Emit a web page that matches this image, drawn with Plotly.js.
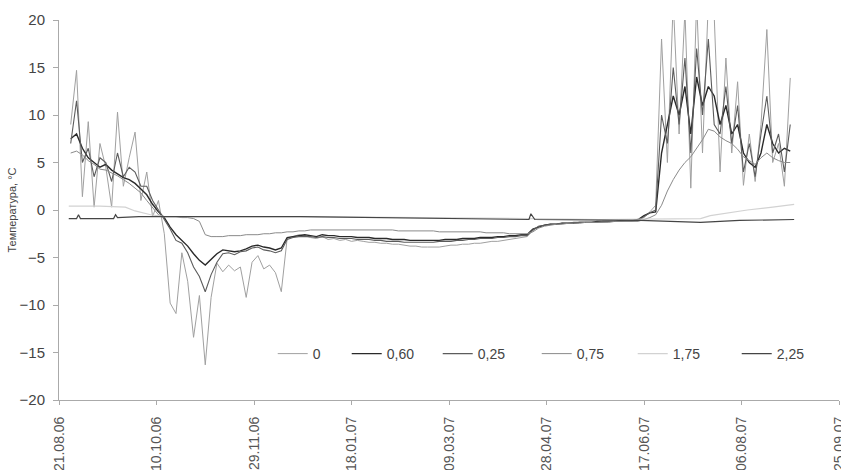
<!DOCTYPE html>
<html>
<head>
<meta charset="utf-8">
<script src="https://cdn.plot.ly/plotly-3.0.1.min.js"></script>
<style>html,body{margin:0;padding:0;background:#fff;}#chart{width:841px;height:470px;}</style>
</head>
<body>
<div id="chart"></div>
<script>
// Grid start (27.08.2006) and step (3 days) for the dense series
const gridStart = '2006-08-27';
const gridStepDays = 3;

// Depth 0 m
const s0 = [
  9, 14.7, 1.4, 9.3, 0.3, 7.0, 4.5, 0.3, 10.3, 2.5,
  5.5, 8.2, 1.0, 4.0, -0.7, 1.0, -2.5, -9.8, -10.9, -4.5,
  -7.5, -13.4, -9.0, -16.3, -9.2, -5.6, -6.5, -5.8, -6.4, -6.0,
  -9.2, -5.5, -4.8, -6.2, -5.8, -6.6, -8.6, -3.0, -2.8, -2.6,
  -2.7, -2.9, -3.0, -2.8, -3.1, -3.0, -3.2, -3.1, -3.3, -3.2,
  -3.3, -3.4, -3.4, -3.5, -3.5, -3.6, -3.6, -3.7, -3.8, -3.8,
  -3.9, -3.9, -3.9, -3.9, -3.8, -3.7, -3.7, -3.6, -3.6, -3.5,
  -3.5, -3.4, -3.3, -3.3, -3.2, -3.1, -3.0, -2.9, -2.8, -2.2,
  -1.7, -1.6, -1.5, -1.5, -1.4, -1.4, -1.4, -1.3, -1.3, -1.3,
  -1.3, -1.3, -1.2, -1.2, -1.2, -1.2, -1.2, -1.1, -0.8, -0.2,
  0.5, 18, 5, 22, 8, 21, 2.3, 22, 6, 22,
  20.5, 4, 16, 6, 13.5, 2.6, 8, 3, 9, 19,
  5, 7, 2.5, 13.9
];
// Depth 0,60 m
const s060 = [
  7.5, 8.0, 6.5, 5.5, 5.0, 4.5, 4.8, 4.2, 3.8, 3.4,
  3.2, 2.8, 2.2, 1.6, 0.6, -0.2, -0.8, -1.8, -2.6, -3.2,
  -3.8, -4.6, -5.3, -5.8, -5.2, -4.6, -4.2, -4.3, -4.4, -4.3,
  -4.1, -3.8, -3.7, -3.9, -4.0, -4.2, -4.0, -2.9, -2.8, -2.7,
  -2.6, -2.7, -2.8, -2.6, -2.7, -2.7, -2.8, -2.8, -2.8, -2.9,
  -2.9, -2.9, -3.0, -3.0, -3.0, -3.1, -3.1, -3.1, -3.2, -3.2,
  -3.2, -3.2, -3.2, -3.2, -3.1, -3.1, -3.1, -3.0, -3.0, -3.0,
  -2.9, -2.9, -2.9, -2.8, -2.8, -2.7, -2.7, -2.6, -2.6, -2.0,
  -1.8, -1.6, -1.5, -1.5, -1.4, -1.4, -1.4, -1.3, -1.3, -1.3,
  -1.2, -1.2, -1.2, -1.2, -1.1, -1.1, -1.1, -1.0, -0.6, -0.3,
  -0.2, 6, 9, 12, 10, 13, 8, 14, 11, 13,
  12, 9, 11, 8, 9, 6, 5, 4.5, 6, 9,
  7, 6, 6.5, 6.2
];
// Depth 0,25 m
const s025 = [
  7, 11.5, 5, 6.5, 3.5, 5.5, 5, 3, 6, 3.5,
  4.5, 4, 2.5, 2.5, 1, 0, -1, -2, -3.2, -3.5,
  -4.5, -6, -7, -8.6, -6.8, -5.5, -4.6, -4.5, -4.7, -4.4,
  -4.3, -4.0, -3.9, -4.2, -4.3, -4.5, -4.3, -3.1, -2.9, -2.8,
  -2.8, -2.8, -2.9, -2.8, -2.9, -2.9, -3.0, -3.0, -3.0, -3.1,
  -3.1, -3.1, -3.2, -3.2, -3.3, -3.3, -3.3, -3.4, -3.4, -3.4,
  -3.4, -3.4, -3.4, -3.3, -3.3, -3.3, -3.2, -3.2, -3.1, -3.1,
  -3.0, -3.0, -3.0, -2.9, -2.9, -2.8, -2.8, -2.7, -2.7, -2.1,
  -1.7, -1.6, -1.5, -1.5, -1.4, -1.4, -1.3, -1.3, -1.3, -1.3,
  -1.3, -1.2, -1.2, -1.2, -1.2, -1.1, -1.1, -1.1, -0.7, -0.3,
  0, 10, 7, 15, 9, 16, 6, 17, 10, 18,
  9, 8, 13, 7, 11, 4, 7, 3.5, 8, 12,
  6, 8, 4, 9
];
// Depth 0,75 m
const s075 = [
  6.0, 6.2, 5.8, 5.2, 4.8, 4.3, 4.2, 3.9, 3.6, 3.2,
  2.8, 2.3, 1.8, 1.0, 0.2, -0.5, -0.7, -0.7, -0.7, -0.8,
  -0.8, -0.9, -1.2, -2.6, -2.8, -2.8, -2.8, -2.7, -2.7, -2.7,
  -2.6, -2.6, -2.6, -2.5, -2.5, -2.4, -2.4, -2.3, -2.3, -2.2,
  -2.2, -2.1, -2.1, -2.1, -2.1, -2.1, -2.1, -2.1, -2.1, -2.1,
  -2.1, -2.1, -2.1, -2.1, -2.1, -2.1, -2.2, -2.2, -2.2, -2.2,
  -2.2, -2.2, -2.2, -2.3, -2.3, -2.3, -2.3, -2.3, -2.3, -2.3,
  -2.3, -2.4, -2.4, -2.4, -2.4, -2.5, -2.5, -2.5, -2.5, -2.3,
  -1.9, -1.7, -1.6, -1.5, -1.5, -1.4, -1.4, -1.4, -1.3, -1.3,
  -1.3, -1.3, -1.3, -1.2, -1.2, -1.2, -1.2, -1.2, -1.0, -0.8,
  -0.5, 0.5, 2.0, 3.2, 4.2, 5.0, 5.6, 6.5, 7.4, 8.5,
  8.3, 7.7, 7.3, 7.0, 6.4, 5.6, 5.2, 4.8, 5.5, 6.0,
  5.5, 5.2, 5.0, 5.0
];
// Depth 1,75 m (sparse readings)
const d175 = ['2006-08-26','2006-09-11','2006-09-24','2006-09-29','2006-10-07','2006-10-14','2006-12-23','2007-03-09','2007-04-19','2007-05-25','2007-07-16','2007-07-21','2007-08-09','2007-08-22','2007-09-02'];
const s175 = [0.4, 0.4, 0.3, -0.1, -0.5, -0.7, -0.7, -0.8, -0.9, -1.0, -0.9, -0.6, 0.0, 0.3, 0.6];
// Depth 2,25 m (sparse readings)
const d225 = ['2006-08-26','2006-08-30','2006-08-31','2006-09-01','2006-09-18','2006-09-19','2006-09-20','2006-10-01','2006-12-23','2007-03-09','2007-04-19','2007-04-20','2007-04-22','2007-06-15','2007-07-16','2007-08-05','2007-09-02'];
const s225 = [-0.9, -0.9, -0.5, -0.9, -0.9, -0.5, -0.8, -0.7, -0.7, -0.85, -1.0, -0.4, -1.0, -1.1, -1.3, -1.1, -1.0];

const seriesNames = ['0', '0,60', '0,25', '0,75', '1,75', '2,25'];
const seriesColors = ['#a0a0a0', '#2a2a2a', '#5c5c5c', '#8a8a8a', '#d2d2d2', '#454545'];

const tickDates = ['2006-08-21','2006-10-10','2006-11-29','2007-01-18','2007-03-09','2007-04-28','2007-06-17','2007-08-06','2007-09-25'];
const tickLabels = ['21.08.06','10.10.06','29.11.06','18.01.07','09.03.07','28.04.07','17.06.07','06.08.07','25.09.07'];

const startMs = Date.parse(gridStart + 'T00:00:00Z');
const gridDates = s0.map((_, i) => new Date(startMs + i * gridStepDays * 86400000).toISOString().slice(0, 10));

const xs = [gridDates, gridDates, gridDates, gridDates, d175, d225];
const ys = [s0, s060, s025, s075, s175, s225];
const widths = [1, 1.4, 1.1, 1, 1.2, 1.2];
const legendWidths = [29, 46, 54, 51, 59, 30];

const traces = ys.map((y, k) => ({
  type: 'scatter', mode: 'lines', x: xs[k], y: y, name: seriesNames[k],
  line: {color: seriesColors[k], width: widths[k]},
  legendwidth: legendWidths[k]
}));

const fam = '"Liberation Sans", Arial, sans-serif';

const layout = {
  width: 841, height: 470,
  margin: {l: 59, r: 2, t: 20, b: 70},
  paper_bgcolor: '#fff', plot_bgcolor: '#fff',
  font: {family: fam, color: '#444'},
  showlegend: true,
  legend: {orientation: 'h', x: 0.274, xanchor: 'left', y: 0.121, yanchor: 'middle',
           bgcolor: 'rgba(0,0,0,0)', font: {family: fam, size: 14, color: '#444'}},
  xaxis: {
    type: 'date', range: ['2006-08-21', '2007-09-25'],
    tickmode: 'array', tickvals: tickDates, ticktext: tickLabels,
    tickangle: -90, ticks: 'outside', ticklen: 4, tickcolor: '#aaa',
    ticklabeloverflow: 'allow', ticklabelstandoff: 6,
    showline: true, linecolor: '#aaa', linewidth: 1, showgrid: false, zeroline: false,
    tickfont: {family: fam, size: 14, color: '#555'}
  },
  yaxis: {
    range: [-20, 20], tickmode: 'linear', tick0: -20, dtick: 5,
    ticks: 'outside', ticklen: 5, tickcolor: '#aaa', ticklabelstandoff: 5,
    showline: true, linecolor: '#aaa', linewidth: 1, showgrid: false, zeroline: false,
    tickfont: {family: fam, size: 15, color: '#444'},
    title: {text: 'Температура, °С', font: {family: fam, size: 11, color: '#444'}, standoff: 0}
  }
};

Plotly.newPlot('chart', traces, layout, {displayModeBar: false, staticPlot: true});
</script>
</body>
</html>
